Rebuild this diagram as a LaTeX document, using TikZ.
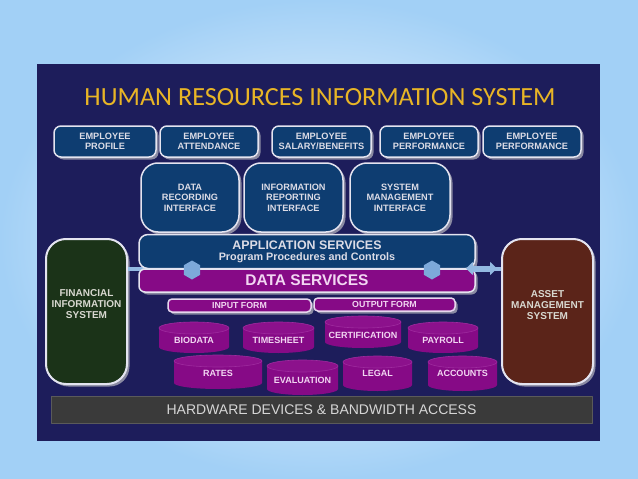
\documentclass[tikz,border=0pt]{standalone}
\usepackage{fontspec}
\setmainfont{Liberation Sans}
\newfontfamily\titlefont{Carlito}
\usetikzlibrary{shapes.geometric,shadows,arrows.meta}
\definecolor{bgblue}{HTML}{A2D0F6}
\definecolor{navy}{HTML}{1D1D5B}
\definecolor{boxblue}{HTML}{0E3D71}
\definecolor{boxline}{HTML}{E4E4F0}
\definecolor{shade}{HTML}{8A8AA2}
\definecolor{gold}{HTML}{E8B526}
\definecolor{boxtext}{HTML}{DCDCE6}
\definecolor{purp}{HTML}{860A86}
\definecolor{purptop}{HTML}{8C118C}
\definecolor{purpedge}{HTML}{9E2A9E}
\definecolor{formline}{HTML}{E6D6EE}
\definecolor{fingreen}{HTML}{1B3318}
\definecolor{assetbrown}{HTML}{5B2419}
\definecolor{sidetext}{HTML}{D8D8D0}
\definecolor{hwgray}{HTML}{3A3A3A}
\definecolor{hwedge}{HTML}{5A5A5A}
\definecolor{hwtext}{HTML}{D6D6D6}
\definecolor{linkblue}{HTML}{93B9E2}
\definecolor{hexblue}{HTML}{7DA9DA}
\definecolor{pinktext}{HTML}{F2D6F2}
\tikzset{
  shdw/.style={drop shadow={shadow xshift=2.5pt,shadow yshift=-2.5pt,fill=shade,opacity=1}},
  bx/.style={shdw,draw=boxline,line width=1.5pt,fill=boxblue,rounded corners=7pt,text=boxtext,
    align=center,inner sep=0pt,font=\bfseries\fontsize{9.2}{10.6}\selectfont},
  side/.style={shdw,draw=boxline,line width=2pt,rounded corners=20pt,inner sep=0pt},
  sidetxt/.style={text=sidetext,align=center,font=\bfseries\fontsize{10}{11.4}\selectfont},
  bar/.style={shdw,draw=boxline,line width=1.5pt,inner sep=0pt,align=center},
  form/.style={shdw,draw=formline,line width=1.5pt,fill=purp,rounded corners=4pt,inner sep=0pt,
    text=pinktext,font=\bfseries\fontsize{8.8}{10}\selectfont},
  cyltxt/.style={text=pinktext,font=\bfseries\fontsize{9}{10}\selectfont},
  hex/.style={regular polygon,regular polygon sides=6,shape border rotate=30,minimum size=19pt,
    inner sep=0pt,fill=hexblue},
  linkline/.style={draw=linkblue,line width=4pt},
  linkarrow/.style={draw=linkblue,line width=6pt,{Triangle[length=7pt,width=13pt]}-{Triangle[length=7pt,width=13pt]}}
}
\begin{document}
\begin{tikzpicture}[x=1pt,y=-1pt,line join=round]
\shade[inner color=white,outer color=bgblue] (0,0) rectangle (638,479);
\useasboundingbox (0,0) rectangle (638,479);
\fill[navy] (37,64) rectangle (600,441);
\node[text=gold,font=\titlefont\fontsize{26.2}{30}\selectfont] (title) at (320,97) {HUMAN RESOURCES INFORMATION SYSTEM};

\foreach \cx/\w/\lab [count=\i] in {105/102/PROFILE,209/98/ATTENDANCE,321.5/99/{SALARY/BENEFITS},429/98/PERFORMANCE,532/98/PERFORMANCE}{
  \node[bx,minimum width=\w,minimum height=31] (top\i) at (\cx,141.5) {EMPLOYEE\\\lab};
}
\foreach \cx/\w/\lab [count=\i] in {190/98/{DATA\\RECORDING},293.5/99/{INFORMATION\\REPORTING},400/100/{SYSTEM\\MANAGEMENT}}{
  \node[bx,rounded corners=17pt,minimum width=\w,minimum height=69] (ifc\i) at (\cx,197.5) {\lab\\INTERFACE};
}

\node[side,fill=fingreen,minimum width=81,minimum height=145] (fin) at (86.5,311.5) {};
\node[sidetxt] (fintxt) at (86.5,304) {FINANCIAL\\INFORMATION\\SYSTEM};
\node[side,fill=assetbrown,minimum width=91,minimum height=145] (asset) at (547.5,311.5) {};
\node[sidetxt] (assettxt) at (547.5,305) {ASSET\\MANAGEMENT\\SYSTEM};

\coordinate (lk) at (0,268.5);
\coordinate (lkR) at (466,268.5);
\draw[linkline] (fin.east |- lk) -- (asset.west |- lk);

\node[bar,fill=boxblue,rounded corners=9pt,minimum width=336,minimum height=34,text=boxtext] (app) at (307,251.5)
  {{\bfseries\fontsize{12.4}{13}\selectfont APPLICATION SERVICES}\\[-1pt]{\bfseries\fontsize{10.8}{12}\selectfont Program Procedures and Controls}};
\node[bar,fill=purp,rounded corners=6pt,minimum width=336,minimum height=23,text=pinktext,
  font=\bfseries\fontsize{15.5}{17}\selectfont] (data) at (307,280.5) {DATA SERVICES};
\node[hex] (hexL) at (192,270) {};
\node[hex] (hexR) at (432,270) {};
\draw[linkarrow,shorten >=4pt] (lkR) -- (asset.west |- lk);

\node[form,minimum width=143,minimum height=13] (inform) at (239.5,305.5) {INPUT FORM};
\node[form,minimum width=141,minimum height=13] (outform) at (384.5,304.5) {OUTPUT FORM};

\foreach \x/\X/\t/\b/\ty/\lab in {159/229/322/353/340/BIODATA,243/314/322/353/340/TIMESHEET,325/401/316/348/335/CERTIFICATION,
    408/478/322/353/340/PAYROLL,174/262/355/389/373/RATES,267/338/360/395/380/EVALUATION,343/412/356/391/373/LEGAL,428/497/356/391/373/ACCOUNTS}{
  \fill[purp] (\x,\t+6) -- (\x,\b-6) arc[start angle=180,end angle=0,x radius={(\X-\x)/2},y radius=6] -- (\X,\t+6) -- cycle;
  \filldraw[fill=purptop,draw=purpedge,line width=0.6pt] ({(\x+\X)/2},\t+6) ellipse[x radius={(\X-\x)/2},y radius=6];
  \node[cyltxt] (\lab) at ({(\x+\X)/2},\ty) {\lab};
}

\node[draw=hwedge,fill=hwgray,line width=1pt,minimum width=541,minimum height=27,inner sep=0pt,text=hwtext,
  font=\fontsize{14}{16}\selectfont] (hw) at (321.5,409.5) {HARDWARE DEVICES \& BANDWIDTH ACCESS};
\end{tikzpicture}
\end{document}
